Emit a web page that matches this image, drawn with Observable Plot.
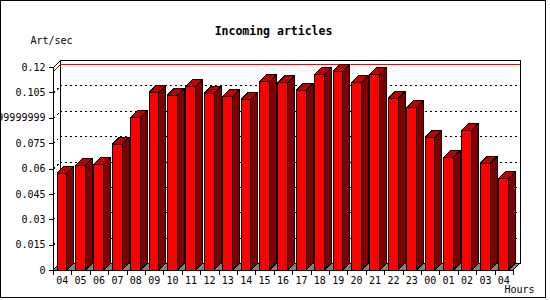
<!DOCTYPE html>
<html><head><meta charset="utf-8">
<script src="https://cdn.jsdelivr.net/npm/d3@7"></script>
<script src="https://cdn.jsdelivr.net/npm/@observablehq/plot@0.6"></script>
<style>
html,body{margin:0;padding:0;background:#fff;}
#wrap{position:relative;width:550px;height:300px;overflow:hidden;background:#fff;}
#border{position:absolute;left:0;top:0;width:546px;height:298px;box-sizing:border-box;border:1px solid #000;pointer-events:none;}
</style></head><body>
<div id="wrap"><div id="chart"></div><div id="border"></div></div>
<script>
const hours = ["04","05","06","07","08","09","10","11","12","13","14","15","16","17","18","19","20","21","22","23","00","01","02","03","04"];
const artPerSec = [0.0572,0.0619,0.0625,0.0743,0.0903,0.1050,0.1033,0.1086,0.1045,0.1027,0.1009,0.1115,0.1107,0.1062,0.1157,0.1175,0.1108,0.1157,0.1015,0.0962,0.0784,0.0666,0.0826,0.0631,0.0542];
const yTicks = [0,0.015,0.03,0.045,0.06,0.075,0.09,0.105,0.12];
const yTickLabels = ["0","0.015","0.03","0.045","0.06","0.075","0.0899999999","0.105","0.12"];
const chartTitle = "Incoming articles";
const yLabel = "Art/sec";
const xLabel = "Hours";

const W = 550, H = 300, mL = 53, mR = 37, mT = 67, mB = 30;
const n = hours.length;
const yMax = 0.12;
const depth = 7;
const dX = depth * n / (W - mL - mR);
const dY = depth * yMax / (H - mT - mB);
const barL = 0.22, barR = 0.76;

const bars = artPerSec.map((v, i) => ({i, v, x1: i + barL, x2: i + barR}));
const sides = bars.flatMap(b => [
  {id: b.i, x: b.x2, y1: 0, y2: b.v},
  {id: b.i, x: b.x2 + dX, y1: dY, y2: b.v + dY}
]);
function slab(id, xa, xb, y) {
  return [
    {id, x: xa, y1: y, y2: y},
    {id, x: xa + dX, y1: y, y2: y + dY},
    {id, x: xb, y1: y, y2: y + dY},
    {id, x: xb + dX, y1: y + dY, y2: y + dY}
  ];
}
const tops = bars.flatMap(b => slab(b.i, b.x1, b.x2, b.v));
const floor = slab("floor", 0, n, 0);
const grid = yTicks.filter(v => v > 0 && v < yMax);
const peak = d3.max(artPerSec);
const xTickPos = d3.range(n + 1);
const dash = "2,3";

const chart = Plot.plot({
  width: W, height: H,
  marginLeft: mL, marginRight: mR, marginTop: mT, marginBottom: mB,
  x: {type: "linear", domain: [0, n], axis: null},
  y: {type: "linear", domain: [0, yMax], axis: null},
  style: {fontFamily: "'DejaVu Sans Mono', monospace", fontSize: "10px", background: "white", color: "black", shapeRendering: "crispEdges"},
  marks: [
    Plot.rect([{a: dX, b: n + dX, c: dY, d: yMax + dY}], {x1: "a", x2: "b", y1: "c", y2: "d", fill: "white", stroke: "black"}),
    Plot.ruleY(grid, {y: d => d + dY, x1: dX, x2: n + dX, stroke: "black", strokeDasharray: dash}),
    Plot.link(grid, {x1: 0, y1: d => d, x2: dX, y2: d => d + dY, stroke: "black", strokeDasharray: dash}),
    Plot.ruleY([peak], {y: d => d + dY, x1: dX, x2: n + dX, stroke: "red"}),
    Plot.link([peak], {x1: 0, y1: d => d, x2: dX, y2: d => d + dY, stroke: "red"}),
    Plot.link([yMax], {x1: 0, y1: d => d, x2: dX, y2: d => d + dY, stroke: "black"}),
    Plot.ruleX([0], {y1: 0, y2: yMax, stroke: "black"}),
    Plot.area(floor, {x1: "x", y1: "y1", y2: "y2", z: "id", fill: "#808080", stroke: "black"}),
    Plot.rect(bars, {x1: "x1", x2: "x2", y1: 0, y2: "v", fill: "#ff0000", stroke: "black"}),
    Plot.area(sides, {x1: "x", y1: "y1", y2: "y2", z: "id", fill: "#800000", stroke: "black"}),
    Plot.area(tops, {x1: "x", y1: "y1", y2: "y2", z: "id", fill: "#c00000", stroke: "black"}),
    Plot.axisY({ticks: yTicks, tickSize: 4, tickPadding: 4, tickFormat: d => yTickLabels[yTicks.indexOf(d)], label: null}),
    Plot.ruleX(xTickPos, {y1: 0, y2: -5 * dY / depth, stroke: "black"}),
    Plot.text(hours, {x: (d, i) => i + 0.5, y: 0, dy: 10.5, dx: -0.5, text: d => d, textAnchor: "middle", fill: "black"}),
    Plot.text([chartTitle], {frameAnchor: "top-left", dx: 273 - mL, dy: 26.5 - mT, text: d => d, textAnchor: "middle", fontWeight: "bold", fontSize: 11.5, fill: "black"}),
    Plot.text([yLabel], {frameAnchor: "top-left", dx: 30 - mL, dy: 36.5 - mT, text: d => d, textAnchor: "start", fill: "black"}),
    Plot.text([xLabel], {frameAnchor: "bottom-left", dx: 504 - mL, dy: 292.5 - (H - mB), text: d => d, textAnchor: "start", fill: "black"})
  ]
});
document.getElementById("chart").appendChild(chart);
</script>
</body></html>
